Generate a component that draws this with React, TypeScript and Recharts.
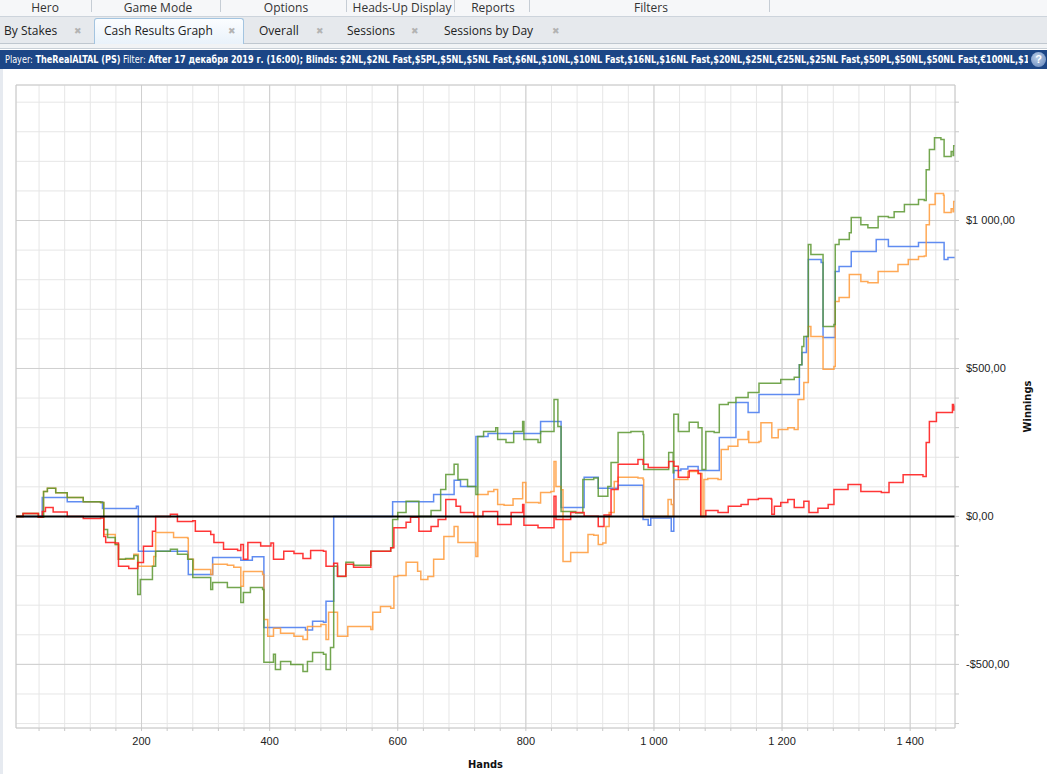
import React from 'react';
import { LineChart, Line, XAxis, YAxis, CartesianGrid, ReferenceLine, Label } from 'recharts';

// [hand, winnings] pairs
const redSeries: [number, number][] = [
  [5, 0], [15, 10], [39, -3], [45, 17], [50, 30], [62, 15], [84, 0], [109, -7], [136, -5], [141, -68], [144, -88],
  [159, -90], [164, -168], [180, -176], [194, -156], [203, -101], [217, -50], [222, 0], [245, 7], [256, -17], [280, -15],
  [284, -50], [308, -61], [313, -88], [328, -111], [350, -115], [355, -95], [359, -145], [366, -88], [386, -100],
  [402, -90], [406, -145], [422, -118], [438, -125], [452, -142], [464, -115], [484, -118], [488, -168], [500, -158],
  [506, -202], [519, -162], [531, -172], [558, -118], [589, -106], [594, -38], [613, -20], [620, -3], [633, -50],
  [652, -34], [663, -10], [675, 57], [691, 34], [698, 13], [719, 0], [733, 17], [756, -27], [777, 13], [795, 40],
  [797, -30], [819, -38], [844, 68], [847, -10], [870, 13], [891, 1], [913, -34], [922, 5], [933, 91], [944, 176],
  [975, 192], [983, 176], [991, 165], [1023, 186], [1031, 170], [1038, 132], [1055, 155], [1069, 145], [1073, 0],
  [1081, 20], [1100, 13], [1116, 34], [1136, 40], [1147, 57], [1163, 61], [1183, 58], [1184, 7], [1188, 34],
  [1198, 47], [1209, 57], [1219, 30], [1234, 51], [1242, 13], [1256, 28], [1272, 40], [1281, 91], [1303, 108],
  [1323, 84], [1355, 81], [1367, 115], [1389, 141], [1420, 135], [1425, 250], [1430, 321], [1441, 351], [1459, 351],
  [1466, 378], [1468, 360], [1470, 375],
];

const blueSeries: [number, number][] = [
  [5, 0], [45, 64], [84, 50], [139, 27], [188, 27], [192, 34], [195, -118], [272, -120], [273, -196], [311, -139],
  [355, -148], [373, -136], [391, -375], [456, -384], [467, -354], [484, -358], [488, -287], [500, 0], [589, 0],
  [592, 50], [656, 74], [688, 122], [698, 101], [722, 270], [741, 280], [823, 321], [855, 30], [891, 132], [913, 95],
  [944, 105], [983, -10], [991, -30], [995, -5], [1027, -50], [1031, 155], [1042, 160], [1053, 169], [1069, 155],
  [1102, 267], [1128, 385], [1147, 351], [1164, 412], [1225, 412], [1227, 513], [1231, 554], [1238, 608], [1241, 868],
  [1261, 858], [1264, 605], [1283, 828], [1289, 845], [1308, 895], [1347, 936], [1366, 912], [1413, 926], [1452, 926],
  [1453, 868], [1459, 875], [1470, 875],
];

const greenSeries: [number, number][] = [
  [5, 0], [15, 10], [39, -3], [47, 84], [53, 95], [66, 80], [84, 64], [109, 50], [136, 47], [141, -44], [147, -71],
  [159, -95], [164, -145], [175, -142], [188, -132], [194, -264], [198, -213], [217, -168], [222, -118], [245, -111],
  [256, -128], [272, -145], [280, -206], [308, -247], [311, -223], [323, -223], [334, -240], [355, -291], [359, -257],
  [370, -240], [389, -247], [391, -493], [406, -466], [409, -517], [417, -490], [433, -500], [452, -524], [459, -490],
  [467, -460], [484, -466], [488, -517], [495, -443], [500, -168], [506, -203], [519, -155], [531, -165], [558, -118],
  [589, -106], [592, -10], [600, 13], [613, 51], [633, 0], [652, 20], [667, 91], [675, 142], [688, 176], [694, 125],
  [709, 101], [722, 74], [725, 270], [734, 287], [753, 300], [756, 260], [769, 250], [781, 287], [795, 321], [797, 260],
  [819, 250], [823, 287], [839, 287], [844, 395], [850, 304], [855, 17], [878, 12], [889, 125], [906, 130], [913, 68],
  [928, 101], [933, 182], [944, 284], [964, 287], [983, 277], [984, 159], [1016, 159], [1023, 216], [1030, 148],
  [1031, 345], [1038, 287], [1055, 318], [1069, 300], [1075, 159], [1081, 287], [1094, 284], [1102, 378], [1116, 385],
  [1128, 402], [1147, 419], [1163, 419], [1164, 450], [1198, 463], [1219, 470], [1227, 513], [1231, 574], [1234, 608],
  [1241, 919], [1245, 885], [1264, 642], [1281, 649], [1283, 919], [1289, 936], [1305, 959], [1308, 1010], [1323, 986],
  [1334, 976], [1350, 1014], [1366, 1010], [1375, 1030], [1391, 1054], [1413, 1071], [1422, 1068], [1425, 1172],
  [1430, 1240], [1438, 1280], [1448, 1274], [1453, 1216], [1464, 1233], [1467, 1220], [1468, 1253], [1470, 1253],
];

const orangeSeries: [number, number][] = [
  [5, 0], [15, 10], [39, -3], [47, 84], [53, 95], [66, 80], [84, 64], [109, 50], [136, 47], [141, -61], [159, -95],
  [164, -145], [188, -128], [195, -168], [219, -135], [222, -54], [245, -54], [250, -71], [272, -74], [273, -145],
  [281, -179], [308, -196], [311, -162], [334, -165], [344, -172], [355, -236], [359, -186], [389, -196], [391, -348],
  [397, -405], [406, -378], [417, -395], [438, -405], [452, -416], [459, -372], [480, -365], [488, -416], [492, -324],
  [506, -405], [516, -405], [522, -372], [542, -372], [558, -382], [561, -324], [573, -304], [589, -310], [594, -203],
  [600, -200], [613, -155], [631, -185], [636, -213], [647, -203], [656, -145], [672, -68], [688, -34], [694, -88],
  [722, -135], [725, 74], [741, 84], [750, 91], [756, 40], [766, 38], [780, 60], [795, 115], [800, 47], [820, 45],
  [823, 81], [839, 84], [844, 186], [847, 101], [855, 90], [858, -152], [870, -122], [886, -122], [897, -61], [906, -64],
  [913, -95], [920, -90], [925, -34], [930, 13], [938, 118], [944, 132], [975, 130], [983, 125], [984, 0], [1016, 0],
  [1022, 57], [1027, 40], [1030, 0], [1031, 125], [1053, 152], [1069, 145], [1075, 0], [1078, 125], [1084, 128],
  [1100, 125], [1105, 226], [1116, 237], [1131, 260], [1147, 287], [1148, 250], [1164, 253], [1167, 317], [1183, 317],
  [1184, 266], [1194, 294], [1209, 300], [1219, 294], [1225, 395], [1234, 453], [1241, 642], [1245, 608], [1264, 497],
  [1281, 507], [1283, 726], [1289, 740], [1305, 818], [1323, 794], [1334, 790], [1350, 828], [1366, 828], [1381, 851],
  [1397, 868], [1413, 878], [1422, 880], [1425, 986], [1430, 1054], [1439, 1091], [1452, 1085], [1453, 1027],
  [1464, 1040], [1467, 1030], [1468, 1064], [1470, 1064],
];

const xTicks = [40, 80, 120, 160, 200, 240, 280, 320, 360, 400, 440, 480, 520, 560, 600, 640, 680, 720, 760, 800,
  840, 880, 920, 960, 1000, 1040, 1080, 1120, 1160, 1200, 1240, 1280, 1320, 1360, 1400, 1440];
const xMajor = [200, 400, 600, 800, 1000, 1200, 1400];
const yTicks = [-700, -600, -500, -400, -300, -200, -100, 0, 100, 200, 300, 400, 500, 600, 700, 800, 900, 1000,
  1100, 1200, 1300, 1400];
const yMajor = [-500, 500, 1000];

const menuItems = [
  { label: 'Hero', x: 45 }, { label: 'Game Mode', x: 158 }, { label: 'Options', x: 286 },
  { label: 'Heads-Up Display', x: 402 }, { label: 'Reports', x: 493 }, { label: 'Filters', x: 651 },
];
const menuSeps = [91, 220, 346, 454, 529, 769];
const tabs = [
  { label: 'By Stakes', x: 4, close: 78 }, { label: 'Cash Results Graph', x: 104, close: 232 },
  { label: 'Overall', x: 259, close: 320 }, { label: 'Sessions', x: 347, close: 415 },
  { label: 'Sessions by Day', x: 444, close: 556 },
];
const blinds = '$2NL,$2NL Fast,$5PL,$5NL,$5NL Fast,$6NL,$10NL,$10NL Fast,$16NL,$16NL Fast,$20NL,$25NL,€25NL,$25NL Fast,$50PL,$50NL,$50NL Fast,€100NL,$100NL';

const toPoints = (s: [number, number][]) => s.map(([hand, value]) => ({ hand, value }));

const groupNum = (n: number) => (n >= 1000 ? `${Math.floor(n / 1000)} ${String(n % 1000).padStart(3, '0')}` : String(n));
const fmtMoney = (v: number) => (v % 500 !== 0 ? '' : `${v < 0 ? '-' : ''}$${groupNum(Math.abs(v))},00`);
const fmtHands = (v: number) => (v % 200 !== 0 ? '' : groupNum(v));

const uiFont = "'Open Sans', 'Noto Sans', sans-serif";
const axisFont = "'Liberation Sans', Arial, sans-serif";
const narrowFont = "'Liberation Sans Narrow', 'DejaVu Sans Condensed', 'Liberation Sans', sans-serif";

function Header() {
  return (
    <>
      <div style={{ position: 'absolute', left: 0, top: 0, width: 1047, height: 16, background: '#f6f7f9', borderBottom: '1px solid #cdd4dc' }}>
        {menuItems.map(m => (
          <div key={m.label} style={{ position: 'absolute', left: m.x - 60, width: 120, top: 1, textAlign: 'center', fontSize: 12, lineHeight: '14px', color: '#333' }}>{m.label}</div>
        ))}
        {menuSeps.map(x => (
          <div key={x} style={{ position: 'absolute', left: x, top: 0, width: 1, height: 12, background: '#c6cdd5' }} />
        ))}
      </div>
      <div style={{ position: 'absolute', left: 0, top: 17, width: 1047, height: 26, background: '#e6e9ed', borderBottom: '1px solid #bfc7cf' }} />
      <div style={{ position: 'absolute', left: 0, top: 44, width: 1047, height: 4, background: '#f1f3f5', borderBottom: '1px solid #c9d0d7' }} />
      <div style={{ position: 'absolute', left: 94, top: 18, width: 150, height: 26, boxSizing: 'border-box', border: '1px solid #a3c4e0', borderBottom: 'none', borderRadius: '3px 3px 0 0', background: 'linear-gradient(#fbfdff, #e9f2fa)' }} />
      {tabs.map(t => (
        <React.Fragment key={t.label}>
          <div style={{ position: 'absolute', left: t.x, top: 22, fontSize: 12, lineHeight: '18px', color: '#222', whiteSpace: 'nowrap' }}>{t.label}</div>
          <div style={{ position: 'absolute', left: t.close - 5, top: 24, width: 10, textAlign: 'center', fontSize: 9, lineHeight: '14px', color: '#b3b3b3' }}>✖</div>
        </React.Fragment>
      ))}
      <div style={{ position: 'absolute', left: 0, top: 50, width: 1047, height: 19, background: '#1c4686' }}>
        <div style={{ position: 'absolute', left: 5, top: 0, width: 1023, height: 19, overflow: 'hidden' }}>
          <div style={{ position: 'absolute', left: 0, top: 0, width: 1400, transform: 'scaleX(0.82)', transformOrigin: '0 0', whiteSpace: 'nowrap', color: '#fff', fontFamily: narrowFont, fontSize: 11, lineHeight: '19px' }}>
            <span>Player: </span><b>TheRealALTAL (PS)</b><span> Filter: </span>
            <b>After 17 декабря 2019 г. (16:00); Blinds: {blinds}</b>
          </div>
        </div>
        <div style={{ position: 'absolute', left: 1031, top: 2, width: 15, height: 15, borderRadius: 8, background: 'radial-gradient(circle at 40% 35%, #b9cde8, #5f82b8)', color: '#fff', fontWeight: 700, fontSize: 11, lineHeight: '15px', textAlign: 'center', fontFamily: axisFont }}>?</div>
      </div>
      <div style={{ position: 'absolute', left: 0, top: 69, width: 3, height: 705, background: '#e6eaf0' }} />
    </>
  );
}

export default function App() {
  return (
    <div style={{ position: 'absolute', left: 0, top: 0, width: 1047, height: 774, overflow: 'hidden', background: '#fff', fontFamily: uiFont }}>
      <Header />
      <div style={{ position: 'absolute', left: 0, top: 69 }}>
        <LineChart width={1047} height={705} margin={{ top: 16, right: 8, bottom: 0, left: 16 }}>
          <CartesianGrid stroke="#e6e6e6" />
          {xMajor.map(x => <ReferenceLine key={`x${x}`} x={x} stroke="#cfcfcf" />)}
          {yMajor.map(y => <ReferenceLine key={`y${y}`} y={y} stroke="#cfcfcf" />)}
          <ReferenceLine x={4} stroke="#c8c8c8" />
          <ReferenceLine y={1458} stroke="#c8c8c8" />
          <XAxis
            type="number"
            dataKey="hand"
            domain={[4, 1470]}
            allowDataOverflow
            ticks={xTicks}
            interval={0}
            tickFormatter={fmtHands}
            tickSize={3}
            tickMargin={6}
            height={46}
            stroke="#c8c8c8"
            tick={{ fill: '#222', fontSize: 11, fontFamily: axisFont }}
          >
            <Label value="Hands" position="insideBottom" offset={6} style={{ fill: '#111', fontSize: 11, fontWeight: 700, fontFamily: narrowFont }} />
          </XAxis>
          <YAxis
            type="number"
            orientation="right"
            domain={[-715, 1458]}
            allowDataOverflow
            ticks={yTicks}
            interval={0}
            tickFormatter={fmtMoney}
            tickSize={4}
            tickMargin={7}
            width={84}
            stroke="#c8c8c8"
            tick={{ fill: '#222', fontSize: 11, fontFamily: axisFont, textAnchor: 'start' }}
          >
            <Label
              content={(props: any) => {
                const vb = props.viewBox || { x: 955, y: 85, width: 84, height: 643 };
                const cx = vb.x + 72;
                const cy = vb.y + vb.height / 2;
                return (
                  <text x={cx} y={cy} transform={`rotate(-90 ${cx} ${cy})`} textAnchor="middle" dominantBaseline="central" fill="#111" fontSize={11} fontWeight={700} fontFamily={narrowFont}>Winnings</text>
                );
              }}
            />
          </YAxis>
          <Line data={toPoints(blueSeries)} dataKey="value" type="stepAfter" stroke="#4f7ff0" strokeOpacity={0.9} strokeWidth={1.5} dot={false} isAnimationActive={false} />
          <Line data={toPoints(orangeSeries)} dataKey="value" type="stepAfter" stroke="#ff9a38" strokeOpacity={0.85} strokeWidth={1.5} dot={false} isAnimationActive={false} />
          <Line data={toPoints(greenSeries)} dataKey="value" type="stepAfter" stroke="#5a9630" strokeOpacity={0.85} strokeWidth={1.5} dot={false} isAnimationActive={false} />
          <Line data={toPoints(redSeries)} dataKey="value" type="stepAfter" stroke="#ff2020" strokeOpacity={0.9} strokeWidth={1.5} dot={false} isAnimationActive={false} />
          <ReferenceLine y={0} stroke="#000" strokeWidth={2} />
        </LineChart>
      </div>
    </div>
  );
}
